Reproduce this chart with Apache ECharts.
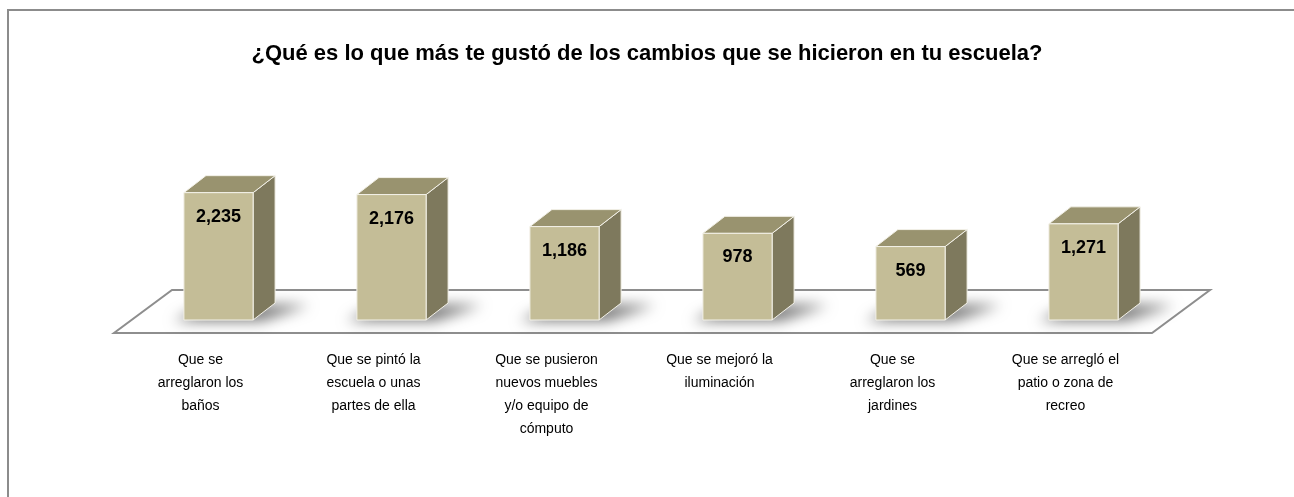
<!DOCTYPE html>
<html>
<head>
<meta charset="utf-8">
<script src="https://cdn.jsdelivr.net/npm/echarts@6/dist/echarts.min.js"></script>
<style>
    html, body { margin: 0; padding: 0; background: #fff; }
    #chart { width: 1294px; height: 497px; }
</style>
</head>
<body>
<div id="chart"></div>
<script>
// 数据
var categories = [
    'Que se\narreglaron los\nbaños',
    'Que se pintó la\nescuela o unas\npartes de ella',
    'Que se pusieron\nnuevos muebles\ny/o equipo de\ncómputo',
    'Que se mejoró la\niluminación',
    'Que se\narreglaron los\njardines',
    'Que se arregló el\npatio o zona de\nrecreo'
];
var values = [2235, 2176, 1186, 978, 569, 1271];

// 坐标轴范围 (隐藏)
var axisMin = -1700;
var axisMax = 5500;

var floorDepth = [58, -43];
var barDepth = [22, -17];

var myChart = echarts.init(document.getElementById('chart'));

function fmt(v) {
    return v.toLocaleString('en-US');
}

function renderBar(params, api) {
    var i = api.value(0);
    var v = api.value(1);
    var base = api.coord([i, axisMin]);
    var top = api.coord([i, v]);
    var band = api.size([1, 0])[0];
    var w = band * 0.4;
    // 柱子在地板中间
    var ox = (floorDepth[0] - barDepth[0]) / 2;
    var oy = (floorDepth[1] - barDepth[1]) / 2;
    var x0 = base[0] + ox - w / 2;
    var x1 = x0 + w;
    var yb = base[1] + oy;
    var yt = top[1] + oy;
    var dx = barDepth[0], dy = barDepth[1];
    var edge = '#F3F1E8';
    var far = 3000; // 只画阴影
    return {
        type: 'group',
        children: [
            {
                type: 'polygon',
                shape: { points: [
                    [x0 - 10 - far, yb + 1], [x1 + 8 - far, yb + 1],
                    [x1 + dx + 34 - far, yb + dy + 2], [x0 + dx - far, yb + dy + 2]
                ] },
                style: {
                    fill: '#000',
                    shadowBlur: 14,
                    shadowColor: 'rgba(0,0,0,0.55)',
                    shadowOffsetX: far,
                    shadowOffsetY: 0
                }
            },
            {
                type: 'polygon',
                shape: { points: [[x1, yb], [x1 + dx, yb + dy], [x1 + dx, yt + dy], [x1, yt]] },
                style: { fill: '#7E795D', stroke: edge, lineWidth: 1 }
            },
            {
                type: 'polygon',
                shape: { points: [[x0, yt], [x1, yt], [x1 + dx, yt + dy], [x0 + dx, yt + dy]] },
                style: { fill: '#99936F', stroke: edge, lineWidth: 1 }
            },
            {
                type: 'rect',
                shape: { x: x0, y: yt, width: w, height: yb - yt },
                style: { fill: '#C4BD97', stroke: edge, lineWidth: 1 }
            },
            {
                type: 'text',
                style: {
                    x: x0 + w / 2,
                    y: yt + 24,
                    text: fmt(v),
                    align: 'center',
                    verticalAlign: 'middle',
                    fill: '#000',
                    font: 'bold 18px "Liberation Sans", Arial, sans-serif'
                }
            }
        ]
    };
}

function renderFloor(params, api) {
    var cs = params.coordSys;
    var fy = cs.y + cs.height;
    var l = cs.x, r = cs.x + cs.width;
    var dx = floorDepth[0], dy = floorDepth[1];
    return {
        type: 'polygon',
        shape: { points: [[l, fy], [r, fy], [r + dx, fy + dy], [l + dx, fy + dy]] },
        style: { fill: '#fff', stroke: '#8E8E8E', lineWidth: 2 }
    };
}

var option = {
    backgroundColor: '#fff',
    animation: false,
    title: {
        text: '¿Qué es lo que más te gustó de los cambios que se hicieron en tu escuela?',
        left: 'center',
        top: 38,
        textStyle: {
            fontFamily: '"Liberation Sans", Arial, sans-serif',
            fontSize: 22,
            fontWeight: 'bold',
            color: '#000'
        }
    },
    graphic: [{
        type: 'rect',
        shape: { x: 8, y: 10, width: 1320, height: 520 },
        style: { fill: 'none', stroke: '#8C8C8C', lineWidth: 2 },
        z: -10
    }],
    grid: {
        left: 114,
        right: 142,
        top: 100,
        bottom: 164
    },
    xAxis: {
        type: 'category',
        data: categories,
        axisLine: { show: false },
        axisTick: { show: false },
        axisLabel: {
            interval: 0,
            margin: 16,
            color: '#000',
            fontSize: 14,
            lineHeight: 23,
            fontFamily: '"Liberation Sans", Arial, sans-serif'
        }
    },
    yAxis: {
        type: 'value',
        show: false,
        min: axisMin,
        max: axisMax,
        splitLine: { show: false }
    },
    series: [
        {
            type: 'custom',
            renderItem: renderFloor,
            data: [[0, axisMin]],
            encode: { x: 0, y: 1 },
            silent: true,
            z: 1
        },
        {
            type: 'custom',
            renderItem: renderBar,
            data: values.map(function (v, i) { return [i, v]; }),
            encode: { x: 0, y: 1 },
            z: 2
        }
    ]
};

myChart.setOption(option);
</script>
</body>
</html>
